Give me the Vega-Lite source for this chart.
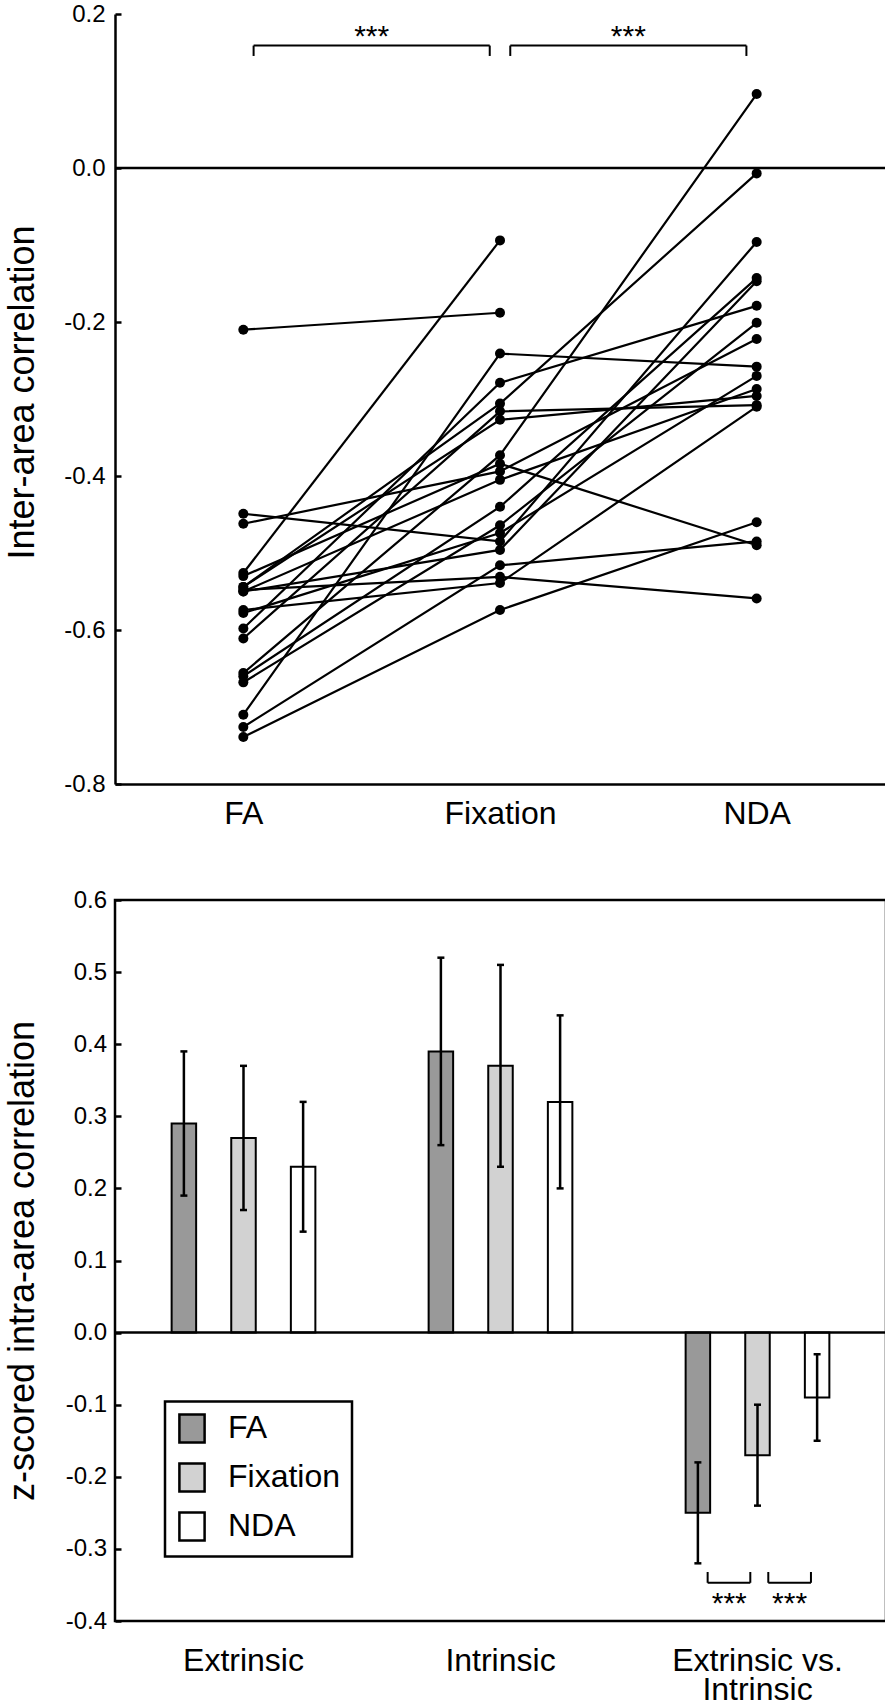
{
  "$schema": "https://vega.github.io/schema/vega-lite/v6.json",
  "padding": {"left": 3, "top": 2, "right": 0, "bottom": 0},
  "spacing": 56,
  "resolve": {"legend": {"fill": "independent"}},
  "config": {
    "font": "Liberation Sans",
    "view": {"stroke": null},
    "axis": {
      "labelColor": "black", "titleColor": "black", "domainColor": "black", "tickColor": "black",
      "grid": false, "titleFontWeight": "normal", "domainWidth": 2.5, "tickWidth": 2.5,
      "labelFont": "Liberation Sans", "titleFont": "Liberation Sans"
    },
    "legend": {"labelFont": "Liberation Sans", "labelColor": "black", "strokeColor": "black", "strokeWidth": 2.5},
    "text": {"font": "Liberation Sans", "color": "black"}
  },
  "datasets": {
    "zero": [{"v": 0}],
    "subj": [
      {"s": 1, "cond": "FA", "v": -0.526}, {"s": 1, "cond": "Fixation", "v": -0.094},
      {"s": 2, "cond": "FA", "v": -0.21}, {"s": 2, "cond": "Fixation", "v": -0.188},
      {"s": 3, "cond": "FA", "v": -0.71}, {"s": 3, "cond": "Fixation", "v": -0.241}, {"s": 3, "cond": "NDA", "v": -0.258},
      {"s": 4, "cond": "FA", "v": -0.598}, {"s": 4, "cond": "Fixation", "v": -0.279}, {"s": 4, "cond": "NDA", "v": -0.179},
      {"s": 5, "cond": "FA", "v": -0.544}, {"s": 5, "cond": "Fixation", "v": -0.306}, {"s": 5, "cond": "NDA", "v": -0.007},
      {"s": 6, "cond": "FA", "v": -0.611}, {"s": 6, "cond": "Fixation", "v": -0.316}, {"s": 6, "cond": "NDA", "v": -0.308},
      {"s": 7, "cond": "FA", "v": -0.544}, {"s": 7, "cond": "Fixation", "v": -0.327}, {"s": 7, "cond": "NDA", "v": -0.296},
      {"s": 8, "cond": "FA", "v": -0.656}, {"s": 8, "cond": "Fixation", "v": -0.373}, {"s": 8, "cond": "NDA", "v": 0.096},
      {"s": 9, "cond": "FA", "v": -0.53}, {"s": 9, "cond": "Fixation", "v": -0.384}, {"s": 9, "cond": "NDA", "v": -0.49},
      {"s": 10, "cond": "FA", "v": -0.462}, {"s": 10, "cond": "Fixation", "v": -0.394}, {"s": 10, "cond": "NDA", "v": -0.222},
      {"s": 11, "cond": "FA", "v": -0.55}, {"s": 11, "cond": "Fixation", "v": -0.405}, {"s": 11, "cond": "NDA", "v": -0.287},
      {"s": 12, "cond": "FA", "v": -0.66}, {"s": 12, "cond": "Fixation", "v": -0.44}, {"s": 12, "cond": "NDA", "v": -0.143},
      {"s": 13, "cond": "FA", "v": -0.668}, {"s": 13, "cond": "Fixation", "v": -0.464}, {"s": 13, "cond": "NDA", "v": -0.201},
      {"s": 14, "cond": "FA", "v": -0.578}, {"s": 14, "cond": "Fixation", "v": -0.474}, {"s": 14, "cond": "NDA", "v": -0.27},
      {"s": 15, "cond": "FA", "v": -0.449}, {"s": 15, "cond": "Fixation", "v": -0.485}, {"s": 15, "cond": "NDA", "v": -0.096},
      {"s": 16, "cond": "FA", "v": -0.55}, {"s": 16, "cond": "Fixation", "v": -0.496}, {"s": 16, "cond": "NDA", "v": -0.147},
      {"s": 17, "cond": "FA", "v": -0.726}, {"s": 17, "cond": "Fixation", "v": -0.516}, {"s": 17, "cond": "NDA", "v": -0.485},
      {"s": 18, "cond": "FA", "v": -0.548}, {"s": 18, "cond": "Fixation", "v": -0.531}, {"s": 18, "cond": "NDA", "v": -0.559},
      {"s": 19, "cond": "FA", "v": -0.574}, {"s": 19, "cond": "Fixation", "v": -0.539}, {"s": 19, "cond": "NDA", "v": -0.31},
      {"s": 20, "cond": "FA", "v": -0.739}, {"s": 20, "cond": "Fixation", "v": -0.574}, {"s": 20, "cond": "NDA", "v": -0.46}
    ],
    "topbr": [
      {"x": 1.04, "x2": 1.96, "y": 0.159, "y2": 0.159},
      {"x": 1.04, "x2": 1.04, "y": 0.159, "y2": 0.1455},
      {"x": 1.96, "x2": 1.96, "y": 0.159, "y2": 0.1455},
      {"x": 2.04, "x2": 2.96, "y": 0.159, "y2": 0.159},
      {"x": 2.04, "x2": 2.04, "y": 0.159, "y2": 0.1455},
      {"x": 2.96, "x2": 2.96, "y": 0.159, "y2": 0.1455}
    ],
    "topstar": [{"x": 1.5, "y": 0.1584, "t": "***"}, {"x": 2.5, "y": 0.1584, "t": "***"}],
    "bars": [
      {"grp": "Extrinsic", "cond": "FA", "v": 0.29, "lo": 0.19, "hi": 0.39},
      {"grp": "Extrinsic", "cond": "Fixation", "v": 0.27, "lo": 0.17, "hi": 0.37},
      {"grp": "Extrinsic", "cond": "NDA", "v": 0.23, "lo": 0.14, "hi": 0.32},
      {"grp": "Intrinsic", "cond": "FA", "v": 0.39, "lo": 0.26, "hi": 0.52},
      {"grp": "Intrinsic", "cond": "Fixation", "v": 0.37, "lo": 0.23, "hi": 0.51},
      {"grp": "Intrinsic", "cond": "NDA", "v": 0.32, "lo": 0.2, "hi": 0.44},
      {"grp": "Extrinsic vs. Intrinsic", "cond": "FA", "v": -0.25, "lo": -0.32, "hi": -0.18},
      {"grp": "Extrinsic vs. Intrinsic", "cond": "Fixation", "v": -0.17, "lo": -0.24, "hi": -0.1},
      {"grp": "Extrinsic vs. Intrinsic", "cond": "NDA", "v": -0.09, "lo": -0.15, "hi": -0.03}
    ],
    "botbr": [
      {"x": 2.306, "x2": 2.472, "y": -0.347, "y2": -0.347},
      {"x": 2.306, "x2": 2.306, "y": -0.332, "y2": -0.347},
      {"x": 2.472, "x2": 2.472, "y": -0.332, "y2": -0.347},
      {"x": 2.542, "x2": 2.708, "y": -0.347, "y2": -0.347},
      {"x": 2.542, "x2": 2.542, "y": -0.332, "y2": -0.347},
      {"x": 2.708, "x2": 2.708, "y": -0.332, "y2": -0.347}
    ],
    "botstar": [{"x": 2.39, "y": -0.3885, "t": "***"}, {"x": 2.625, "y": -0.3885, "t": "***"}]
  },
  "vconcat": [
    {
      "width": 770,
      "height": 770,
      "view": {"stroke": null},
      "layer": [
        {
          "layer": [
            {
              "data": {"name": "zero"},
              "mark": {"type": "rule", "color": "black", "strokeWidth": 2.5},
              "encoding": {"y": {"field": "v", "type": "quantitative"}}
            },
            {
              "data": {"name": "subj"},
              "mark": {"type": "line", "color": "black", "strokeWidth": 2.2},
              "encoding": {
                "x": {
                  "field": "cond", "type": "nominal", "sort": ["FA", "Fixation", "NDA"],
                  "scale": {"type": "point", "domain": ["FA", "Fixation", "NDA"], "padding": 0.5},
                  "axis": {"title": null, "ticks": false, "labelFontSize": 32, "labelPadding": 14.3, "labelAngle": 0}
                },
                "y": {
                  "field": "v", "type": "quantitative",
                  "scale": {"domain": [-0.8, 0.2], "nice": false, "zero": false},
                  "axis": {
                    "title": "Inter-area correlation", "titleFontSize": 36, "titleX": -81.5, "titleY": 378,
                    "titleBaseline": "alphabetic", "titleAlign": "center", "titleAngle": -90,
                    "values": [-0.8, -0.6, -0.4, -0.2, 0, 0.2], "tickSize": -6, "labelPadding": 16,
                    "labelFontSize": 24,
                    "labelExpr": "(datum.value < -0.001 ? '-' : '') + format(abs(datum.value), '.1f')"
                  }
                },
                "detail": {"field": "s", "type": "nominal"}
              }
            },
            {
              "data": {"name": "subj"},
              "mark": {"type": "circle", "color": "black", "size": 100, "opacity": 1},
              "encoding": {
                "x": {"field": "cond", "type": "nominal", "sort": ["FA", "Fixation", "NDA"]},
                "y": {"field": "v", "type": "quantitative"}
              }
            }
          ]
        },
        {
          "data": {"name": "topbr"},
          "mark": {"type": "rule", "color": "black", "strokeWidth": 2},
          "encoding": {
            "x": {"field": "x", "type": "quantitative", "scale": {"domain": [0.5, 3.5], "nice": false, "zero": false}, "axis": null},
            "x2": {"field": "x2"},
            "y": {"field": "y", "type": "quantitative"},
            "y2": {"field": "y2"}
          }
        },
        {
          "data": {"name": "topstar"},
          "mark": {"type": "text", "fontSize": 30, "baseline": "alphabetic", "align": "center"},
          "encoding": {
            "x": {"field": "x", "type": "quantitative", "scale": {"domain": [0.5, 3.5], "nice": false, "zero": false}, "axis": null},
            "y": {"field": "y", "type": "quantitative"},
            "text": {"field": "t"}
          }
        }
      ],
      "resolve": {"scale": {"x": "independent"}, "axis": {"x": "independent"}}
    },
    {
      "width": 771,
      "height": 721,
      "view": {"stroke": "black", "strokeWidth": 2.5},
      "layer": [
        {
          "data": {"name": "bars"},
          "encoding": {
            "x": {
              "field": "grp", "type": "nominal", "sort": ["Extrinsic", "Intrinsic", "Extrinsic vs. Intrinsic"],
              "scale": {"paddingInner": 0, "paddingOuter": 0},
              "axis": {
                "title": null, "domain": false, "ticks": false, "labelFontSize": 32, "labelPadding": 24,
                "labelAngle": 0, "labelLineHeight": 29,
                "labelExpr": "datum.label == 'Extrinsic vs. Intrinsic' ? ['Extrinsic vs.', 'Intrinsic'] : datum.label"
              }
            },
            "xOffset": {
              "field": "cond", "type": "nominal", "sort": ["FA", "Fixation", "NDA"],
              "scale": {"paddingInner": 0.589, "paddingOuter": 0.95}
            }
          },
          "layer": [
            {
              "mark": {"type": "bar", "stroke": "black", "strokeWidth": 2},
              "encoding": {
                "y": {
                  "field": "v", "type": "quantitative",
                  "scale": {"domain": [-0.4, 0.6], "nice": false, "zero": false},
                  "axis": {
                    "title": "z-scored intra-area correlation", "titleFontSize": 36, "titleX": -81.5, "titleY": 360.5,
                    "titleBaseline": "alphabetic", "titleAlign": "center", "titleAngle": -90,
                    "values": [-0.4, -0.3, -0.2, -0.1, 0, 0.1, 0.2, 0.3, 0.4, 0.5, 0.6],
                    "domain": false, "tickSize": -6, "labelPadding": 14.5, "labelFontSize": 24,
                    "labelExpr": "(datum.value < -0.001 ? '-' : '') + format(abs(datum.value), '.1f')"
                  }
                },
                "fill": {
                  "field": "cond", "type": "nominal",
                  "scale": {"domain": ["FA", "Fixation", "NDA"], "range": ["#999999", "#d2d2d2", "#ffffff"]},
                  "legend": {
                    "title": null, "orient": "none", "legendX": 50, "legendY": 501.4,
                    "symbolType": "M-0.9,-1H0.9V1H-0.9Z", "symbolSize": 784,
                    "symbolStrokeColor": "black", "symbolStrokeWidth": 2.5, "symbolOpacity": 1,
                    "labelFontSize": 32, "labelOffset": 20, "rowPadding": 11, "padding": 11
                  }
                }
              }
            },
            {
              "mark": {"type": "rule", "color": "black", "strokeWidth": 2.5},
              "encoding": {"y": {"field": "lo", "type": "quantitative"}, "y2": {"field": "hi"}}
            },
            {
              "mark": {"type": "tick", "color": "black", "thickness": 2.5, "size": 7, "opacity": 1},
              "encoding": {"y": {"field": "lo", "type": "quantitative"}}
            },
            {
              "mark": {"type": "tick", "color": "black", "thickness": 2.5, "size": 7, "opacity": 1},
              "encoding": {"y": {"field": "hi", "type": "quantitative"}}
            }
          ]
        },
        {
          "data": {"name": "zero"},
          "mark": {"type": "rule", "color": "black", "strokeWidth": 2.5},
          "encoding": {"y": {"field": "v", "type": "quantitative"}}
        },
        {
          "data": {"name": "botbr"},
          "mark": {"type": "rule", "color": "black", "strokeWidth": 2},
          "encoding": {
            "x": {"field": "x", "type": "quantitative", "scale": {"domain": [0, 3], "nice": false, "zero": false}, "axis": null},
            "x2": {"field": "x2"},
            "y": {"field": "y", "type": "quantitative"},
            "y2": {"field": "y2"}
          }
        },
        {
          "data": {"name": "botstar"},
          "mark": {"type": "text", "fontSize": 30, "baseline": "alphabetic", "align": "center"},
          "encoding": {
            "x": {"field": "x", "type": "quantitative", "scale": {"domain": [0, 3], "nice": false, "zero": false}, "axis": null},
            "y": {"field": "y", "type": "quantitative"},
            "text": {"field": "t"}
          }
        }
      ],
      "resolve": {"scale": {"x": "independent"}, "axis": {"x": "independent"}}
    }
  ]
}
